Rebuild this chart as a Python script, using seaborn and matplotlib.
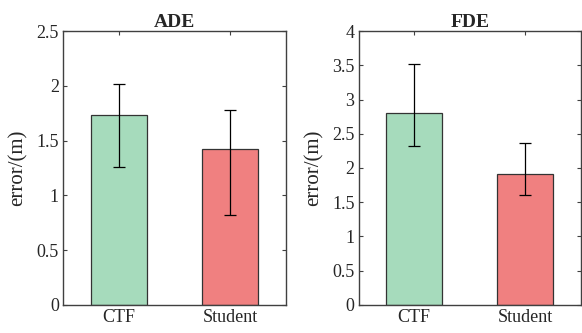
import numpy as np
import pandas as pd
import matplotlib
matplotlib.use("Agg")
import matplotlib.pyplot as plt
import seaborn as sns

# values
methods = ["CTF", "Student"]
ade_mean = [1.73, 1.42]
ade_low = [1.26, 0.82]
ade_high = [2.02, 1.78]
fde_mean = [2.80, 1.91]
fde_low = [2.32, 1.61]
fde_high = [3.52, 2.37]
bar_colors = ["#a6dbbc", "#f08080"]

sns.set_style("white")
plt.rcParams["font.family"] = ["Liberation Serif", "DejaVu Serif"]

fig = plt.figure(figsize=(5.82, 3.33), dpi=100)
ax1 = fig.add_axes([0.1082, 0.0841, 0.3832, 0.8228])
ax2 = fig.add_axes([0.6163, 0.0841, 0.3815, 0.8228])


def draw(ax, title, mean, low, high, ymax, step):
    df = pd.DataFrame({"method": methods, "error": mean})
    sns.barplot(data=df, x="method", y="error", hue="method", palette=bar_colors,
                saturation=1, width=0.5, edgecolor="#333333", linewidth=0.9,
                legend=False, ax=ax)
    mean = np.array(mean)
    yerr = [mean - np.array(low), np.array(high) - mean]
    ax.errorbar(np.arange(len(methods)), mean, yerr=yerr, fmt="none",
                ecolor="black", elinewidth=0.9, capsize=4, capthick=0.9)
    ax.set_xlim(-0.5, len(methods) - 0.5)
    ax.set_ylim(0, ymax)
    ticks = np.arange(0, ymax + 1e-9, step)
    ax.set_yticks(ticks)
    ax.set_yticklabels([f"{v:g}" for v in ticks])
    ax.set_title(title, fontsize=14, fontweight="bold", pad=3)
    ax.set_xlabel("")
    ax.set_ylabel("error/(m)", fontsize=15, labelpad=6)
    ax.tick_params(direction="in", length=3, width=0.8, color="#404040",
                   labelsize=13, top=True, right=True, bottom=True, left=True, pad=3)
    for s in ax.spines.values():
        s.set_visible(True)
        s.set_color("#404040")
        s.set_linewidth(1.0)


draw(ax1, "ADE", ade_mean, ade_low, ade_high, 2.5, 0.5)
draw(ax2, "FDE", fde_mean, fde_low, fde_high, 4, 0.5)

fig.savefig("out.png", dpi=100)
